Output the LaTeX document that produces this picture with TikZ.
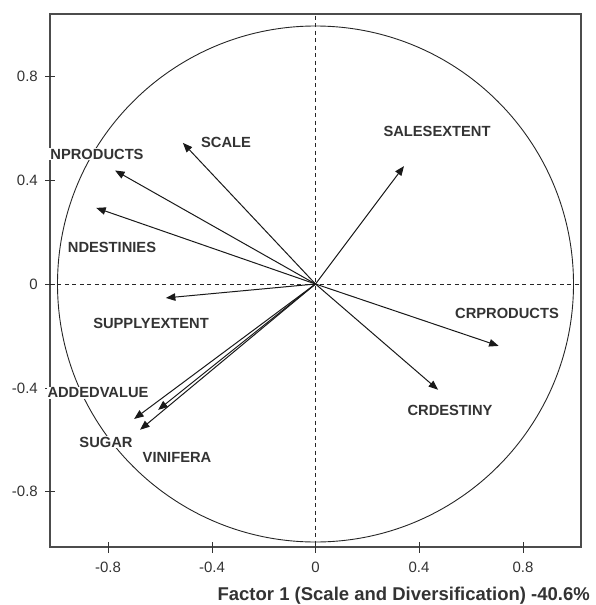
\documentclass[tikz,border=0pt]{standalone}
\usepackage{fontspec}
\setmainfont{Liberation Sans}
\usetikzlibrary{arrows.meta}
\begin{document}
\begin{tikzpicture}[x=1pt,y=-1pt,
  lbl/.style={font=\bfseries\fontsize{14.7}{16}\selectfont, text=black!80, fill=white, inner sep=1pt},
  ticklbl/.style={font=\fontsize{15}{16}\selectfont, text=black!80, inner sep=0pt},
  tickmark/.style={draw=black!80, line width=1pt},
  framebox/.style={draw=black!70, line width=1.8pt},
  axisline/.style={draw=black!85, line width=1pt, dash pattern=on 4pt off 3.5pt},
  unitcircle/.style={draw=black!85, line width=0.9pt},
  vec/.style={draw=black!90, line width=1pt, -{Triangle[length=9.5pt,width=7.5pt]}},
  titlelbl/.style={font=\bfseries\fontsize{18.5}{20}\selectfont, text=black!80, inner sep=0pt}]
\useasboundingbox (0,0) rectangle (595,605);
% frame
\draw[framebox] (50,14) rectangle (581,547);
% y ticks and labels
\foreach \v/\t in {76/0.8,180/0.4,284/0,388/-0.4,491/-0.8}{
  \draw[tickmark] (45,\v) -- (55,\v);
  \node[ticklbl, anchor=east] (yl\v) at (38,\v) {\t};
}
% x ticks and labels
\foreach \u/\t in {108/-0.8,212/-0.4,315.5/0,419/0.4,523/0.8}{
  \draw[tickmark] (\u,542) -- (\u,553);
  \node[ticklbl] (xl\u) at (\u,567) {\t};
}
% axis title
\node[titlelbl, anchor=base east] (xtitle) at (590,600) {Factor 1 (Scale and Diversification) -40.6\%};
% data scope
\begin{scope}[shift={(315.5,284)}, x=258pt, y=258pt]
  \coordinate (O) at (0,0);
  \draw[axisline] (0,1.04) -- (0,-1.02);
  \draw[axisline] (-1.03,0) -- (1.02,0);
  \draw[unitcircle] (O) circle[radius=1];
  \coordinate (tScale) at (-0.514,0.547);
  \coordinate (tNprod) at (-0.777,0.44);
  \coordinate (tNdest) at (-0.85,0.295);
  \coordinate (tSupply) at (-0.58,-0.054);
  \coordinate (tSales) at (0.343,0.457);
  \coordinate (tCrprod) at (0.71,-0.24);
  \coordinate (tCrdest) at (0.475,-0.41);
  \coordinate (tAdded) at (-0.703,-0.523);
  \coordinate (tVinif) at (-0.61,-0.488);
  \coordinate (tSugar) at (-0.68,-0.565);
\end{scope}
% labels
\node[lbl] (lNprod) at (97,154) {NPRODUCTS};
\node[lbl] (lScale) at (226,142) {SCALE};
\node[lbl] (lSales) at (437,131) {SALESEXTENT};
\node[lbl] (lNdest) at (112,247) {NDESTINIES};
\node[lbl] (lSupply) at (151,323) {SUPPLYEXTENT};
\node[lbl] (lCrprod) at (507,313) {CRPRODUCTS};
\node[lbl] (lCrdest) at (450,410) {CRDESTINY};
\node[lbl] (lAdded) at (98,393) {ADDEDVALUE};
\node[lbl] (lSugar) at (106,442) {SUGAR};
\node[lbl] (lVinif) at (177,457) {VINIFERA};
% vectors
\foreach \t in {tScale,tNprod,tNdest,tSupply,tSales,tCrprod,tCrdest,tAdded,tVinif,tSugar}{
  \draw[vec] (O) -- (\t);
}
\end{tikzpicture}
\end{document}
